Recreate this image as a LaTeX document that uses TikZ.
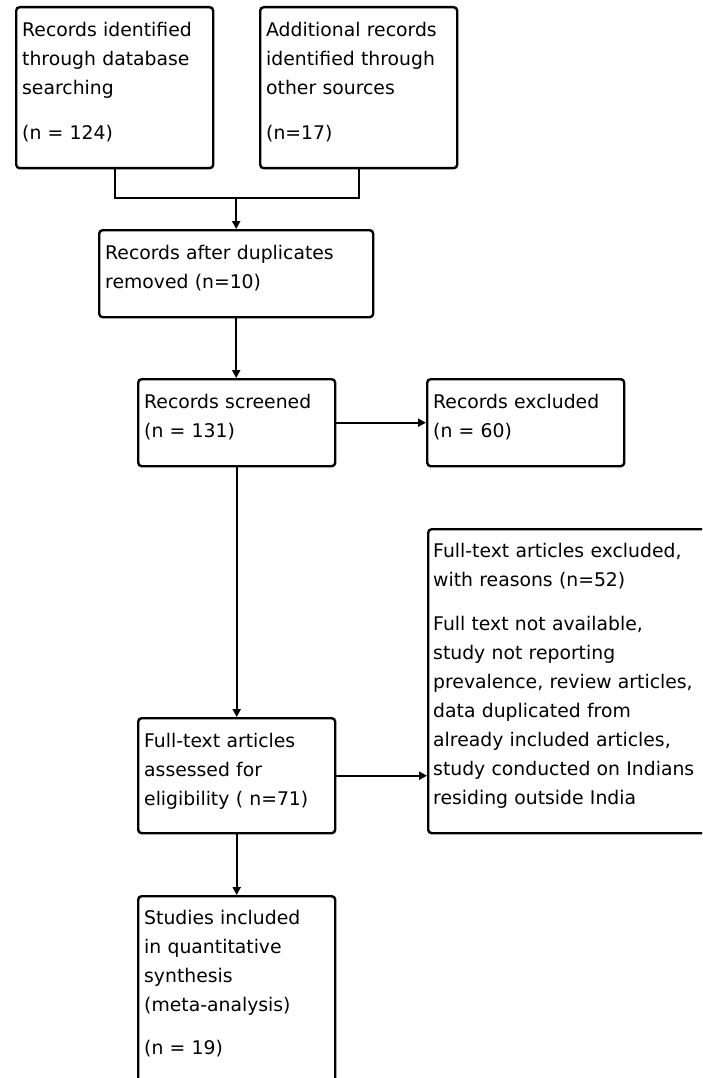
\documentclass[tikz,border=0pt]{standalone}
\usepackage{fontspec}
\setmainfont{DejaVu Sans}
\usetikzlibrary{arrows.meta,calc}
\begin{document}
\begin{tikzpicture}[x=1pt,y=-1pt,
  boxstyle/.style={draw,line width=2.4pt,rounded corners=3.5pt,inner sep=0pt,anchor=north west},
  txt/.style={anchor=north west,inner sep=0pt,align=left,text width=270pt,font=\fontsize{18.8}{29}\selectfont},
  conn/.style={line width=2.2pt},
  arr/.style={conn,-{Triangle[length=8pt,width=8pt]}}]
\path[use as bounding box] (0,0) rectangle (702,1078);
\clip (0,0) rectangle (702,1078);
\fill[white] (0,0) rectangle (702,1078);

% boxes
\node[boxstyle,minimum width=197pt,minimum height=161pt] (b1) at (15,6) {};
\node[boxstyle,minimum width=197pt,minimum height=161pt] (b2) at (259,6) {};
\node[boxstyle,minimum width=274pt,minimum height=87pt] (b3) at (98,229) {};
\node[boxstyle,minimum width=197pt,minimum height=87pt] (b4) at (137,378) {};
\node[boxstyle,minimum width=197pt,minimum height=87pt] (b5) at (426,378) {};
\node[boxstyle,minimum width=300pt,minimum height=304pt] (b6) at (427,528) {};
\node[boxstyle,minimum width=197pt,minimum height=115pt] (b7) at (137,717) {};
\node[boxstyle,minimum width=197pt,minimum height=230pt] (b8) at (137,895) {};

% texts
\node[txt] (t1) at ($(b1.north west)+(7,15)$) {\rule{0pt}{15pt}Records identified\\through database\\searching\\[16pt](n = 124)};
\node[txt] (t2) at ($(b2.north west)+(7,15)$) {\rule{0pt}{15pt}Additional records\\identified through\\other sources\\[16pt](n=17)};
\node[txt] (t3) at ($(b3.north west)+(7,15)$) {\rule{0pt}{15pt}Records after duplicates\\removed (n=10)};
\node[txt] (t4) at ($(b4.north west)+(7,15)$) {\rule{0pt}{15pt}Records screened\\(n = 131)};
\node[txt] (t5) at ($(b5.north west)+(7,15)$) {\rule{0pt}{15pt}Records excluded\\(n = 60)};
\node[txt] (t6) at ($(b6.north west)+(6,14)$) {\rule{0pt}{15pt}Full-text articles excluded,\\with reasons (n=52)\\[15pt]Full text not available,\\study not reporting\\prevalence, review articles,\\data duplicated from\\already included articles,\\study conducted on Indians\\residing outside India};
\node[txt] (t7) at ($(b7.north west)+(7,15)$) {\rule{0pt}{15pt}Full-text articles\\assessed for\\eligibility ( n=71)};
\node[txt] (t8) at ($(b8.north west)+(7,14)$) {\rule{0pt}{15pt}Studies included\\in quantitative\\synthesis\\(meta-analysis)\\[14pt](n = 19)};

% connectors
\coordinate (j) at ($(b3.north)+(0,-31)$);
\draw[conn] (b1.south) |- (j) -| (b2.south);
\draw[arr] (j) -- (b3.north);
\draw[arr] (b3.south) -- (b3.south |- b4.north);
\draw[arr] (b4.east) -- (b5.west);
\draw[arr] (b4.south) -- (b7.north);
\draw[arr] (b7.east) -- (b7.east -| b6.west);
\draw[arr] (b7.south) -- (b8.north);
\end{tikzpicture}
\end{document}
